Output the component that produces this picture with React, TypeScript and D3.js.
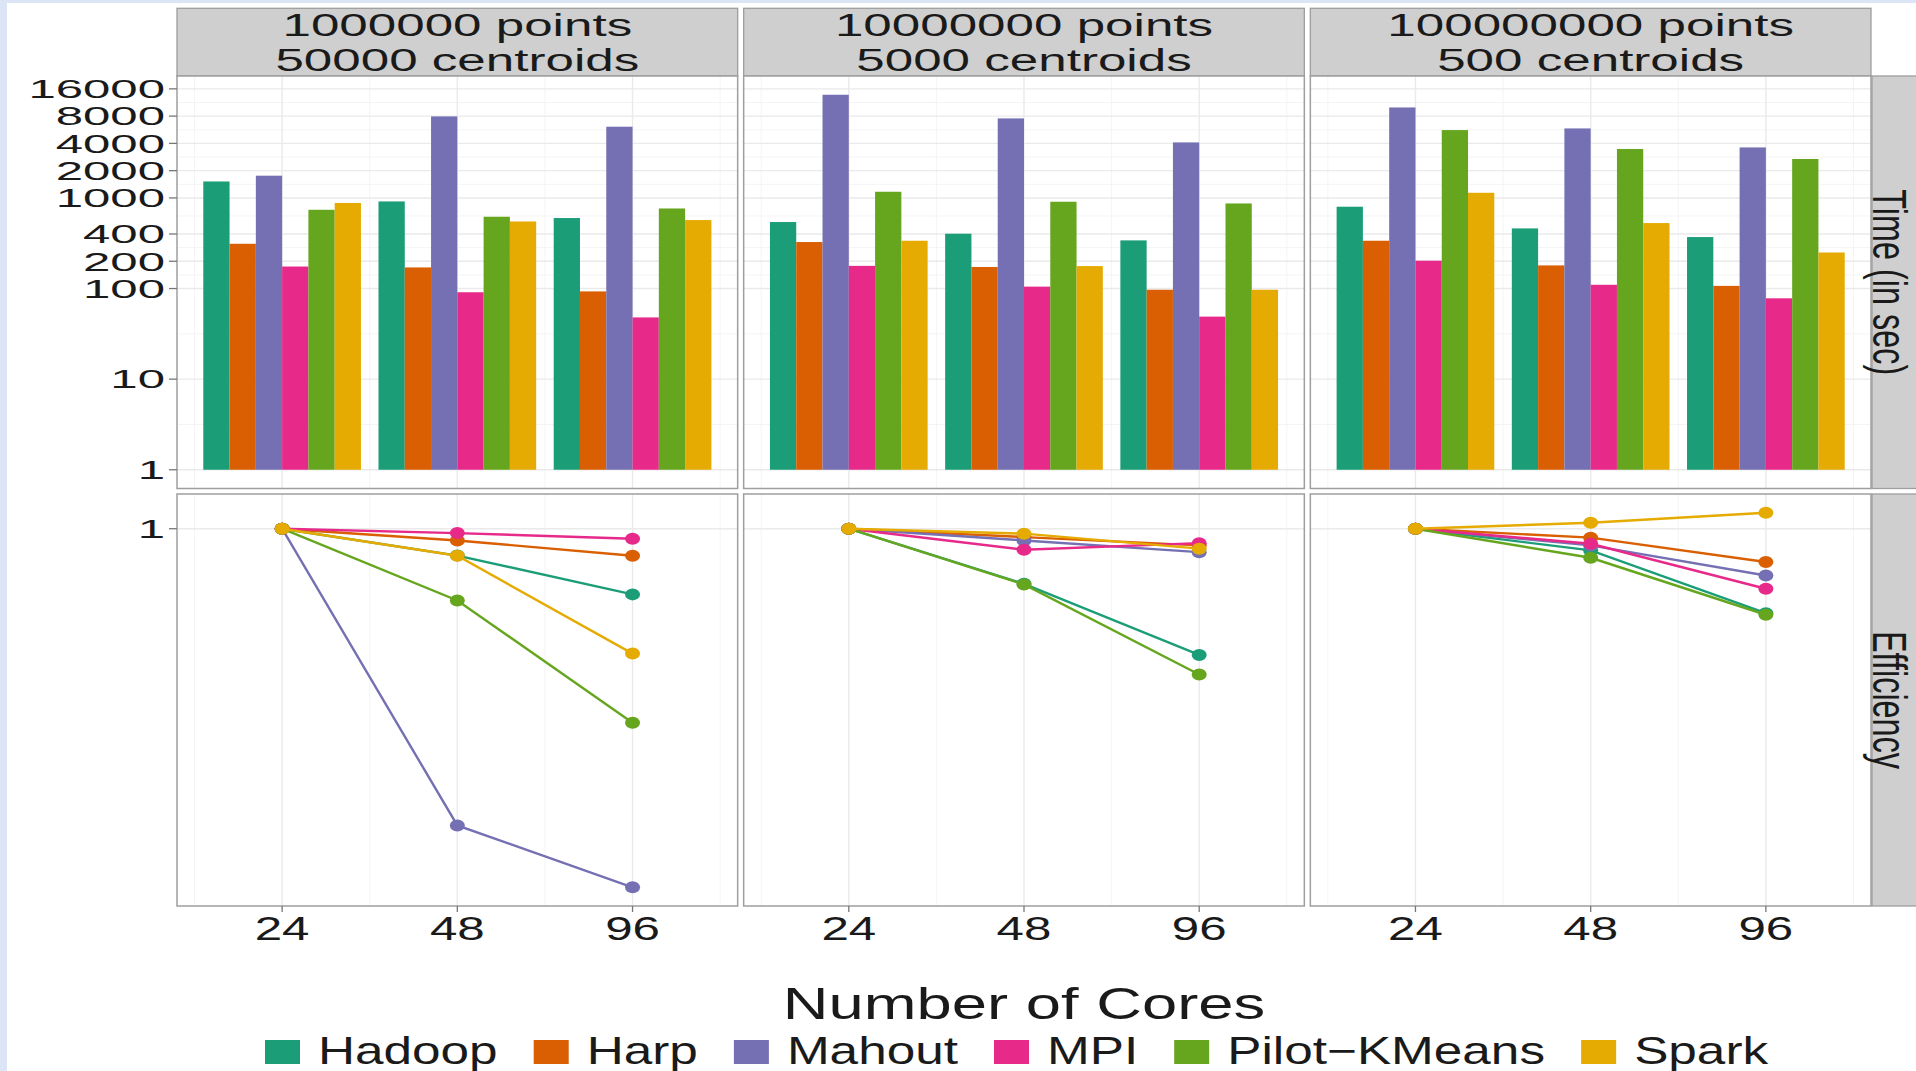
import React from "react";
import * as d3 from "d3";

// ---- data ---------------------------------------------------------------
const systems = ["Hadoop", "Harp", "Mahout", "MPI", "Pilot\u2212KMeans", "Spark"];
const systemColors = ["#1B9E77", "#D95F02", "#7570B3", "#E7298A", "#66A61E", "#E6AB02"];
const cores = [24, 48, 96];
const facetLines = [
  ["1000000 points", "50000 centroids"],
  ["10000000 points", "5000 centroids"],
  ["100000000 points", "500 centroids"],
];
const rowLabels = ["Time (in sec)", "Efficiency"];
const timeBreaks = [1, 10, 100, 200, 400, 1000, 2000, 4000, 8000, 16000];

// run time in seconds: one row per facet, one value per core count (24, 48, 96)
const hadoopTime = [[1520, 915, 600], [542, 403, 340], [800, 461, 370]];
const harpTime = [[312, 171, 93], [326, 173, 97], [337, 180, 107]];
const mahoutTime = [[1760, 7940, 6110], [13770, 7550, 4100], [9970, 5850, 3610]];
const mpiTime = [[175, 91, 48], [178, 105, 49], [203, 110, 78]];
const pilotTime = [[740, 620, 765], [1170, 908, 869], [5610, 3470, 2690]];
const sparkTime = [[880, 550, 570], [337, 177, 97], [1140, 528, 250]];

// parallel efficiency relative to 24 cores
const hadoopEff = [[1, 0.82, 0.616], [1, 0.666, 0.394], [1, 0.852, 0.536]];
const harpEff = [[1, 0.917, 0.819], [1, 0.94, 0.884], [1, 0.936, 0.782]];
const mahoutEff = [[1, 0.112, 0.071], [1, 0.917, 0.841], [1, 0.884, 0.708]];
const mpiEff = [[1, 0.968, 0.929], [1, 0.856, 0.899], [1, 0.895, 0.642]];
const pilotEff = [[1, 0.589, 0.239], [1, 0.663, 0.341], [1, 0.807, 0.53]];
const sparkEff = [[1, 0.819, 0.398], [1, 0.964, 0.863], [1, 1.045, 1.125]];

const timeBySystem = [hadoopTime, harpTime, mahoutTime, mpiTime, pilotTime, sparkTime];
const effBySystem = [hadoopEff, harpEff, mahoutEff, mpiEff, pilotEff, sparkEff];

// ---- layout -------------------------------------------------------------
const W = 1916;
const H = 1071;
const FONT = '"Liberation Sans", Arial, Helvetica, sans-serif';
const panelLeft = 177;
const panelRight = 1871;
const gap = 6;
const panelW = (panelRight - panelLeft - 2 * gap) / 3;
const stripTop = 8.3;
const stripBottom = 76;
const rowTime: [number, number] = [76, 488.5];
const rowEff: [number, number] = [494, 906];
const stripFill = "#CFCFCF";
const borderCol = "#9E9E9E";
const gridMajor = "#EAEAEA";
const gridMinor = "#F4F4F4";
const textCol = "#1A1A1A";

const facetX = (f: number) => panelLeft + f * (panelW + gap);

// continuous log2 x axis, expanded 0.6 units each side (bar half-width + pad)
const l2 = (v: number) => Math.log2(v);
const xs = d3
  .scaleLinear()
  .domain([l2(cores[0]) - 0.6, l2(cores[cores.length - 1]) + 0.6])
  .range([0, panelW]);

const expand = (lo: number, hi: number): [number, number] => {
  const r = hi - lo;
  return [lo - 0.05 * r, hi + 0.05 * r];
};

const allTimes = timeBySystem.flat(2);
const yTime = d3
  .scaleLinear()
  .domain(expand(0, Math.log10(d3.max(allTimes) as number)))
  .range([rowTime[1], rowTime[0]]);

const allEff = effBySystem.flat(2).map((e) => Math.log10(e));
const yEff = d3
  .scaleLinear()
  .domain(expand(d3.min(allEff) as number, d3.max(allEff) as number))
  .range([rowEff[1], rowEff[0]]);

// minor breaks halfway between major breaks (in transformed space)
function minorBreaks(major: number[], domain: number[]) {
  const b = [...major];
  const out: number[] = [];
  if (b.length < 2) return out;
  const ext = [b[0] - (b[1] - b[0]), ...b, b[b.length - 1] + (b[b.length - 1] - b[b.length - 2])];
  for (let i = 0; i < ext.length - 1; i++) {
    const m = (ext[i] + ext[i + 1]) / 2;
    if (m >= domain[0] && m <= domain[1]) out.push(m);
  }
  return out;
}

const timeMajor = timeBreaks.map((v) => Math.log10(v));
const timeMinor = minorBreaks(timeMajor, yTime.domain());
const effMajor = timeBreaks.map((v) => Math.log10(v)).filter((v) => v >= yEff.domain()[0] && v <= yEff.domain()[1]);
const xMajor = cores.map(l2);
const xMinor = minorBreaks(xMajor, xs.domain());

let measureCtx: CanvasRenderingContext2D | null = null;
function textWidth(t: string, size: number) {
  if (!measureCtx) measureCtx = document.createElement("canvas").getContext("2d");
  if (!measureCtx) return t.length * size * 0.55;
  measureCtx.font = `${size}px "Liberation Sans"`;
  return measureCtx.measureText(t).width;
}

// text with a horizontal stretch
function SText(props: {
  x: number;
  y: number;
  size: number;
  sx: number;
  anchor?: string;
  children: React.ReactNode;
}) {
  const { x, y, size, sx, anchor = "start", children } = props;
  return (
    <text
      transform={`translate(${x},${y}) scale(${sx},1)`}
      fontSize={size}
      fontFamily={FONT}
      fill={textCol}
      textAnchor={anchor}
    >
      {children}
    </text>
  );
}

function Grid({ x0, row, yMaj, yMin, ys }: { x0: number; row: [number, number]; yMaj: number[]; yMin: number[]; ys: d3.ScaleLinear<number, number> }) {
  return (
    <g>
      {yMin.map((v, i) => (
        <line key={"hm" + i} x1={x0} x2={x0 + panelW} y1={ys(v)} y2={ys(v)} stroke={gridMinor} strokeWidth={1} />
      ))}
      {xMinor.map((v, i) => (
        <line key={"vm" + i} x1={x0 + xs(v)} x2={x0 + xs(v)} y1={row[0]} y2={row[1]} stroke={gridMinor} strokeWidth={1} />
      ))}
      {yMaj.map((v, i) => (
        <line key={"hM" + i} x1={x0} x2={x0 + panelW} y1={ys(v)} y2={ys(v)} stroke={gridMajor} strokeWidth={1.4} />
      ))}
      {xMajor.map((v, i) => (
        <line key={"vM" + i} x1={x0 + xs(v)} x2={x0 + xs(v)} y1={row[0]} y2={row[1]} stroke={gridMajor} strokeWidth={1.4} />
      ))}
    </g>
  );
}

export default function App() {
  const barW = 0.9 / systems.length;
  const effLine = d3
    .line<number>()
    .x((_, i) => xs(xMajor[i]))
    .y((e) => yEff(Math.log10(e)));

  // legend layout
  const legSize = 38;
  const legSx = 1.35;
  const keyW = 35;
  const keyH = 24;
  const keyGap = 18;
  const itemGap = 36;
  let cursor = 265;
  const legendItems = systems.map((s, i) => {
    const tw = textWidth(s, legSize) * legSx;
    const item = { s, i, x: cursor, tw };
    cursor += keyW + keyGap + tw + itemGap;
    return item;
  });

  return (
    <svg
      width={W}
      height={H}
      viewBox={`0 0 ${W} ${H}`}
      style={{ position: "absolute", left: 0, top: 0, background: "#fff" }}
    >
      <rect x={0} y={0} width={W} height={H} fill="#FFFFFF" />
      <rect x={0} y={0} width={7} height={H} fill="#DCE5F5" />
      <rect x={0} y={0} width={W} height={3} fill="#DCE5F5" />

      {facetLines.map((lines, f) => {
        const x0 = facetX(f);
        return (
          <g key={"facet" + f}>
            {/* strip with a two-line label */}
            <rect x={x0} y={stripTop} width={panelW} height={stripBottom - stripTop} fill={stripFill} stroke={borderCol} strokeWidth={1.3} />
            <SText x={x0 + panelW / 2} y={35.5} size={31} sx={1.65} anchor="middle">{lines[0]}</SText>
            <SText x={x0 + panelW / 2} y={70.5} size={31} sx={1.65} anchor="middle">{lines[1]}</SText>

            {/* time panel */}
            <rect x={x0} y={rowTime[0]} width={panelW} height={rowTime[1] - rowTime[0]} fill="#FFFFFF" />
            <Grid x0={x0} row={rowTime} yMaj={timeMajor} yMin={timeMinor} ys={yTime} />
            {timeBySystem.map((series, s) =>
              cores.map((c, ci) => {
                const left = l2(c) - 0.45 + barW * s;
                const v = series[f][ci];
                const yTop = yTime(Math.log10(v));
                return (
                  <rect
                    key={`b${s}-${ci}`}
                    x={x0 + xs(left)}
                    y={yTop}
                    width={xs(left + barW) - xs(left)}
                    height={yTime(0) - yTop}
                    fill={systemColors[s]}
                  />
                );
              })
            )}
            <rect x={x0} y={rowTime[0]} width={panelW} height={rowTime[1] - rowTime[0]} fill="none" stroke={borderCol} strokeWidth={1.5} />

            {/* efficiency panel */}
            <rect x={x0} y={rowEff[0]} width={panelW} height={rowEff[1] - rowEff[0]} fill="#FFFFFF" />
            <Grid x0={x0} row={rowEff} yMaj={effMajor} yMin={[]} ys={yEff} />
            <g transform={`translate(${x0},0)`}>
              {effBySystem.map((series, s) => (
                <g key={"l" + s}>
                  <path d={effLine(series[f]) || ""} fill="none" stroke={systemColors[s]} strokeWidth={2.4} />
                  {series[f].map((e, ci) => (
                    <ellipse key={ci} cx={xs(xMajor[ci])} cy={yEff(Math.log10(e))} rx={7.5} ry={6} fill={systemColors[s]} />
                  ))}
                </g>
              ))}
            </g>
            <rect x={x0} y={rowEff[0]} width={panelW} height={rowEff[1] - rowEff[0]} fill="none" stroke={borderCol} strokeWidth={1.5} />

            {/* x axis */}
            {cores.map((c, ci) => {
              const xx = x0 + xs(l2(c));
              return (
                <g key={"xt" + ci}>
                  <line x1={xx} x2={xx} y1={rowEff[1]} y2={rowEff[1] + 6} stroke="#777" strokeWidth={1.3} />
                  <SText x={xx} y={940} size={34} sx={1.45} anchor="middle">{String(c)}</SText>
                </g>
              );
            })}
          </g>
        );
      })}

      {/* y axis, time row */}
      {timeBreaks.map((b, i) => {
        const yy = yTime(Math.log10(b));
        return (
          <g key={"yt" + i}>
            <line x1={panelLeft - 8} x2={panelLeft} y1={yy} y2={yy} stroke="#777" strokeWidth={1.3} />
            <SText x={165} y={yy + 9.3} size={26} sx={1.89} anchor="end">{String(b)}</SText>
          </g>
        );
      })}
      {/* y axis, efficiency row */}
      {effMajor.map((v, i) => {
        const yy = yEff(v);
        return (
          <g key={"ye" + i}>
            <line x1={panelLeft - 8} x2={panelLeft} y1={yy} y2={yy} stroke="#777" strokeWidth={1.3} />
            <SText x={165} y={yy + 9.3} size={26} sx={1.89} anchor="end">{String(Math.round(Math.pow(10, v)))}</SText>
          </g>
        );
      })}

      {/* row strips */}
      {[rowTime, rowEff].map((row, r) => (
        <g key={"rs" + r}>
          <rect x={panelRight + 1} y={row[0]} width={80} height={row[1] - row[0]} fill={stripFill} stroke={borderCol} strokeWidth={1.3} />
          <text
            transform={`translate(${1891},${(row[0] + row[1]) / 2}) rotate(90) scale(1,1.5)`}
            fontSize={32.4}
            fontFamily={FONT}
            fill={textCol}
            textAnchor="middle"
            dy="0.36em"
          >
            {rowLabels[r]}
          </text>
        </g>
      ))}

      {/* axis title */}
      <SText x={(panelLeft + panelRight) / 2} y={1019} size={44} sx={1.44} anchor="middle">Number of Cores</SText>

      {/* legend */}
      {legendItems.map((it) => (
        <g key={"lg" + it.i}>
          <rect x={it.x} y={1040} width={keyW} height={keyH} fill={systemColors[it.i]} />
          <SText x={it.x + keyW + keyGap} y={1063.5} size={legSize} sx={legSx}>{it.s}</SText>
        </g>
      ))}
    </svg>
  );
}
